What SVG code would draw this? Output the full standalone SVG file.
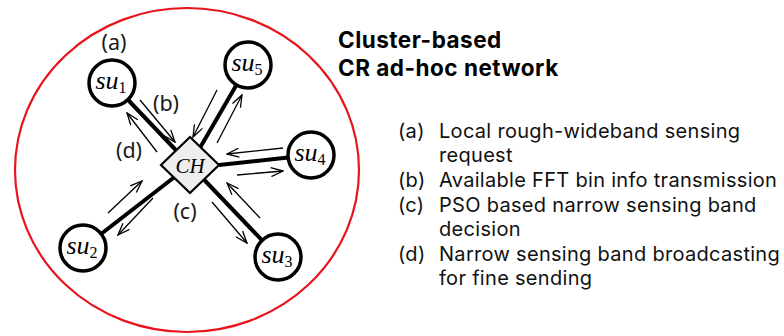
<svg xmlns="http://www.w3.org/2000/svg" width="784" height="336" viewBox="0 0 784 336">
<style>
.spoke{stroke:#000;stroke-width:4;fill:none}
.arr{stroke:#000;stroke-width:1.3;fill:none;marker-end:url(#ah)}
.node{fill:#fff;stroke:#000;stroke-width:3.5}
.nl{font-family:"Liberation Serif",serif;font-style:italic;font-size:26px;fill:#000;text-anchor:middle}
.sub{font-style:normal;font-size:16px}
.lab{font-family:"Noto Sans","Open Sans",sans-serif;font-size:21.5px;fill:#1a1a1a;text-anchor:middle}
.title{font-family:Inter,"Noto Sans",sans-serif;font-size:22.5px;font-weight:700;fill:#000;letter-spacing:0.5px}
.list{font-family:Inter,"Noto Sans",sans-serif;font-size:20px;fill:#111;letter-spacing:0.3px}
</style>
<defs>
<marker id="ah" markerWidth="14" markerHeight="10" refX="13" refY="5" orient="auto" markerUnits="userSpaceOnUse">
<path d="M1,0.5 L13,5 L1,9.5" fill="none" stroke="#000" stroke-width="1.3"/>
</marker>
</defs>
<ellipse cx="187" cy="170" rx="172" ry="162" fill="none" stroke="#e8141c" stroke-width="2.2"/>
<g id="connectors">
<line class="spoke" x1="190" y1="165" x2="112" y2="83"/>
<line class="spoke" x1="190" y1="165" x2="248" y2="65"/>
<line class="spoke" x1="219" y1="165" x2="311" y2="155"/>
<line class="spoke" x1="190" y1="165" x2="83" y2="248"/>
<line class="spoke" x1="190" y1="165" x2="278" y2="257"/>
<line class="arr" x1="140" y1="100" x2="175" y2="142"/>
<line class="arr" x1="157" y1="152" x2="127" y2="113"/>
<line class="arr" x1="217" y1="90" x2="193" y2="137"/>
<line class="arr" x1="217" y1="143" x2="242" y2="95"/>
<line class="arr" x1="283" y1="148" x2="227" y2="154"/>
<line class="arr" x1="237" y1="175" x2="283" y2="171"/>
<line class="arr" x1="108" y1="213" x2="142" y2="181"/>
<line class="arr" x1="153" y1="198" x2="118" y2="235"/>
<line class="arr" x1="212" y1="202" x2="247" y2="243"/>
<line class="arr" x1="260" y1="218" x2="227" y2="183"/>
</g>
<g id="CH">
<polygon points="190,137 219,165 190,193 161,165" fill="#eeeeee" stroke="#000" stroke-width="2.2"/>
<text class="nl" x="190" y="173" style="font-size:21px">CH</text>
</g>
<g id="su1">
<circle class="node" cx="112" cy="83" r="23"/>
<text class="nl" x="111" y="89">su<tspan class="sub" dy="4">1</tspan></text>
</g>
<g id="su5">
<circle class="node" cx="248" cy="65" r="23"/>
<text class="nl" x="247" y="71">su<tspan class="sub" dy="4">5</tspan></text>
</g>
<g id="su4">
<circle class="node" cx="311" cy="155" r="23"/>
<text class="nl" x="310" y="161">su<tspan class="sub" dy="4">4</tspan></text>
</g>
<g id="su2">
<circle class="node" cx="83" cy="248" r="23"/>
<text class="nl" x="82" y="254">su<tspan class="sub" dy="4">2</tspan></text>
</g>
<g id="su3">
<circle class="node" cx="278" cy="257" r="23"/>
<text class="nl" x="277" y="263">su<tspan class="sub" dy="4">3</tspan></text>
</g>
<g id="labels">
<text class="lab" x="114" y="50">(a)</text>
<text class="lab" x="166" y="111">(b)</text>
<text class="lab" x="129" y="158">(d)</text>
<text class="lab" x="185" y="219">(c)</text>
</g>
<g id="title">
<text class="title" x="338" y="48">Cluster-based</text>
<text class="title" x="338" y="76">CR ad-hoc network</text>
</g>
<g id="legend" class="list">
<text x="398" y="138">(a)</text><text x="439" y="138">Local rough-wideband sensing</text>
<text x="439" y="162">request</text>
<text x="398" y="187">(b)</text><text x="439" y="187">Available FFT bin info transmission</text>
<text x="398" y="212">(c)</text><text x="439" y="212">PSO based narrow sensing band</text>
<text x="439" y="236">decision</text>
<text x="398" y="261">(d)</text><text x="439" y="261">Narrow sensing band broadcasting</text>
<text x="439" y="285">for fine sending</text>
</g>
</svg>
